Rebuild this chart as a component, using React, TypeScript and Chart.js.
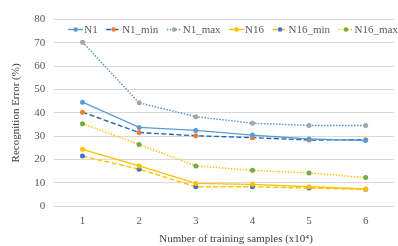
import React, { useEffect, useRef } from "react";
import { Chart, registerables } from "chart.js";

Chart.register(...registerables);

const categories = ["1", "2", "3", "4", "5", "6"];
const n1 = [44.6, 33.8, 32.5, 30.5, 28.8, 28.2];
const n1Min = [40.3, 31.6, 30.2, 29.4, 28.4, 28.5];
const n1Max = [70.3, 44.3, 38.4, 35.6, 34.6, 34.6];
const n16 = [24.4, 17.3, 9.8, 9.4, 8.4, 7.4];
const n16Min = [21.5, 15.9, 8.4, 8.4, 7.8, 7.3];
const n16Max = [35.4, 26.5, 17.3, 15.4, 14.3, 12.3];
const seriesNames = ["N1", "N1_min", "N1_max", "N16", "N16_min", "N16_max"];
const yTitle = "Recognition Error (%)";
const xTitle = "Number of training samples (x10⁴)";

const FONT = '"Liberation Serif"';

const legendPlugin = {
  id: "insideLegend",
  afterDraw(chart: any) {
    const ctx = chart.ctx;
    const area = chart.chartArea;
    const y = area.top + 10;
    let x = area.left + 14;
    ctx.save();
    ctx.font = `11px ${FONT}`;
    ctx.textBaseline = "middle";
    chart.data.datasets.forEach((ds: any) => {
      const symW = 15;
      ctx.beginPath();
      ctx.setLineDash(ds.borderDash || []);
      ctx.strokeStyle = ds.borderColor;
      ctx.lineWidth = ds.borderWidth;
      ctx.moveTo(x, y);
      ctx.lineTo(x + symW, y);
      ctx.stroke();
      ctx.setLineDash([]);
      ctx.beginPath();
      ctx.fillStyle = ds.pointBackgroundColor;
      ctx.arc(x + symW / 2, y, 2.3, 0, Math.PI * 2);
      ctx.fill();
      ctx.fillStyle = "#595959";
      ctx.fillText(ds.label, x + symW + 1, y + 0.5);
      x += symW + 1 + ctx.measureText(ds.label).width + 8.5;
    });
    // x-axis title (offset to the right like the original)
    ctx.font = `11px ${FONT}`;
    ctx.fillStyle = "#404040";
    ctx.textAlign = "center";
    ctx.fillText(xTitle, (area.left + area.right) / 2 + 12, chart.height - 7);
    ctx.restore();
  },
};

export default function App() {
  const ref = useRef<HTMLCanvasElement | null>(null);
  useEffect(() => {
    document.body.style.margin = "0";
    if (!ref.current) return;
    const mk = (
      label: string,
      data: number[],
      line: string,
      point: string,
      dash: number[]
    ) => ({
      label,
      data,
      borderColor: line,
      backgroundColor: point,
      pointBackgroundColor: point,
      pointBorderColor: point,
      pointRadius: 2.5,
      pointBorderWidth: 0,
      borderWidth: 1.4,
      borderDash: dash,
      tension: 0,
      fill: false,
    });
    const chart = new Chart(ref.current, {
      type: "line",
      data: {
        labels: categories,
        datasets: [
          mk(seriesNames[0], n1, "#5B9BD5", "#5B9BD5", []),
          mk(seriesNames[1], n1Min, "#2266B0", "#ED7D31", [5, 2.5]),
          mk(seriesNames[2], n1Max, "#4E95D9", "#A5A5A5", [1.5, 1.5]),
          mk(seriesNames[3], n16, "#FFC000", "#FFC000", []),
          mk(seriesNames[4], n16Min, "#FFC000", "#4472C4", [5, 2.5]),
          mk(seriesNames[5], n16Max, "#FFC000", "#70AD47", [1.5, 1.5]),
        ],
      },
      options: {
        animation: false,
        responsive: true,
        maintainAspectRatio: false,
        layout: { padding: { top: 19.5, right: 1, left: 10, bottom: 18.5 } },
        plugins: {
          legend: { display: false },
          tooltip: { enabled: false },
        },
        scales: {
          x: {
            offset: true,
            grid: { display: false },
            border: { display: false },
            ticks: { color: "#595959", font: { family: FONT, size: 11 }, padding: 0 },
          },
          y: {
            min: 0,
            max: 80,
            ticks: {
              stepSize: 10,
              color: "#595959",
              font: { family: FONT, size: 11 },
              padding: 9,
            },
            grid: { color: "#D9D9D9", lineWidth: 1, drawTicks: false },
            border: { display: false },
            title: {
              display: true,
              text: yTitle,
              color: "#404040",
              font: { family: FONT, size: 11 },
              padding: { top: 0, bottom: 2 },
            },
          },
        },
      },
      plugins: [legendPlugin],
    });
    return () => chart.destroy();
  }, []);
  return (
    <div style={{ width: 398, height: 246, position: "relative", background: "#fff" }}>
      <canvas ref={ref} />
    </div>
  );
}
